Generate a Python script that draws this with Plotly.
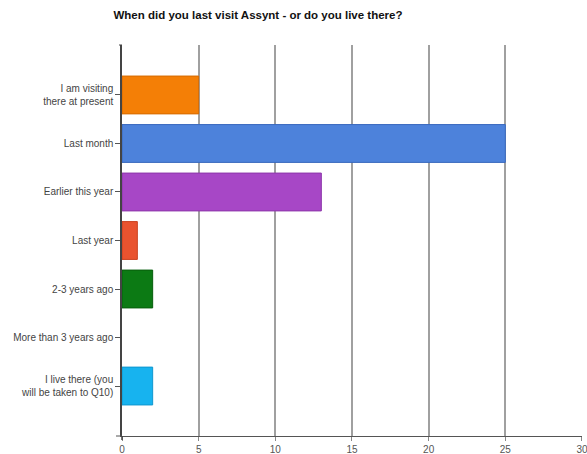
import plotly.graph_objects as go

categories = [
    "I am visiting<br>there at present",
    "Last month",
    "Earlier this year",
    "Last year",
    "2-3 years ago",
    "More than 3 years ago",
    "I live there (you<br>will be taken to Q10)",
]
responses = [5, 25, 13, 1, 2, 0, 2]
bar_colors = ["#F47F06", "#4D82DB", "#A747C6", "#E9532F", "#0C7A14", "#FFFFFF", "#17B3EF"]
line_colors = ["#D66A00", "#3A69BE", "#8C35AA", "#C9401F", "#075E0C", "#FFFFFF", "#0F97CF"]
x_ticks = [0, 5, 10, 15, 20, 25, 30]

positions = list(range(len(categories)))

fig = go.Figure(
    go.Bar(
        x=responses,
        y=positions,
        orientation="h",
        width=0.78,
        marker=dict(color=bar_colors, line=dict(color=line_colors, width=1)),
        hoverinfo="x+text",
        text=categories,
        textposition="none",
    )
)

fig.update_layout(
    width=587,
    height=454,
    margin=dict(l=122, r=5, t=45, b=18, autoexpand=False),
    paper_bgcolor="white",
    plot_bgcolor="white",
    showlegend=False,
    font=dict(family="Liberation Sans, Arial, sans-serif", size=10, color="#444444"),
    title=dict(
        text="<b>When did you last visit Assynt - or do you live there?</b>",
        x=258 / 587,
        xanchor="center",
        y=1 - 15 / 454,
        yanchor="middle",
        font=dict(size=11.5, color="#111111"),
    ),
)

fig.update_xaxes(
    range=[0, 30.001],
    tickvals=x_ticks,
    ticktext=[str(v) for v in x_ticks],
    ticklabeloverflow="allow",
    automargin=False,
    showgrid=True,
    gridcolor="#A0A0A0",
    gridwidth=1.5,
    zeroline=False,
    showline=True,
    linecolor="#555555",
    linewidth=1,
    ticks="outside",
    ticklen=4,
    tickcolor="#888888",
    tickfont=dict(size=10, color="#555555"),
)

fig.update_yaxes(
    range=[7.03, -1.03],
    tickvals=positions,
    ticktext=categories,
    automargin=False,
    showgrid=False,
    zeroline=False,
    showline=True,
    linecolor="#444444",
    linewidth=1.5,
    ticks="outside",
    ticklen=5,
    tickcolor="#555555",
    tickfont=dict(size=10, color="#444444"),
)

# axis extensions where the two axes cross, and the small cap at the top
fig.add_shape(type="line", xref="paper", yref="paper", x0=-6 / 460, x1=0, y0=0, y1=0,
              line=dict(color="#555555", width=1))
fig.add_shape(type="line", xref="paper", yref="paper", x0=0, x1=0, y0=-4 / 391, y1=0,
              line=dict(color="#444444", width=1.5))
fig.add_shape(type="line", xref="paper", yref="paper", x0=-3 / 460, x1=0, y0=1, y1=1,
              line=dict(color="#444444", width=1))

fig.write_html("out.html")
